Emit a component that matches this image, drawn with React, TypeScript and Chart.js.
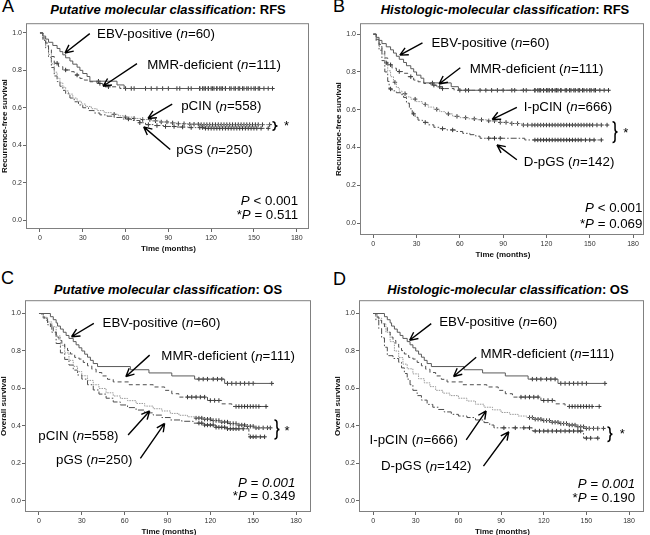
import React, { useEffect, useRef } from "react";
import Chart from "chart.js/auto";

const xTickValues = [0, 30, 60, 90, 120, 150, 180];
const yTickValues = [0, 0.2, 0.4, 0.6, 0.8, 1.0];

// ---- recurrence-free survival ----
const ebvRfsTime = [0, 2, 4, 6, 9, 12, 14, 16, 18, 21, 23, 26, 28, 30, 33, 35, 54, 59];
const ebvRfsSurv = [1, 0.983, 0.967, 0.95, 0.933, 0.917, 0.9, 0.883, 0.867, 0.85, 0.833, 0.817, 0.8, 0.783, 0.767, 0.742, 0.722, 0.703];
const ebvRfsCensor = [41, 64, 78, 86, 96, 104, 112, 114, 116, 118, 120, 122, 124, 126, 128, 130, 133, 136, 139, 142, 145, 148, 151, 154, 163];

const mmrRfsTime = [0, 2, 4, 6, 8, 10, 13, 16, 21, 24, 28, 31, 35, 40, 44, 48, 56];
const mmrRfsSurv = [1, 0.973, 0.946, 0.91, 0.874, 0.838, 0.82, 0.802, 0.793, 0.775, 0.757, 0.748, 0.739, 0.73, 0.721, 0.712, 0.703];
const mmrRfsCensor = [12, 18, 26, 42, 46, 48, 60, 66, 74, 82, 90, 98, 106, 112, 115, 118, 121, 124, 127, 130, 134, 137, 140, 143, 146, 150, 153, 157, 160];

const pcinRfsTime = [0, 2, 4, 6, 8, 10, 12, 14, 16, 18, 20, 23, 26, 29, 32, 36, 40, 45, 50, 55, 60, 66, 72, 78, 84, 90, 96, 104, 112];
const pcinRfsSurv = [1, 0.965, 0.93, 0.885, 0.835, 0.79, 0.758, 0.733, 0.71, 0.69, 0.673, 0.652, 0.635, 0.62, 0.607, 0.595, 0.585, 0.574, 0.565, 0.557, 0.55, 0.543, 0.537, 0.53, 0.524, 0.519, 0.515, 0.512, 0.51];
const pcinRfsCensor = [52, 60, 66, 72, 77, 81, 85, 89, 93, 97, 101, 105, 108, 111, 113, 115, 117, 119, 121, 123, 125, 127, 129, 131, 133, 135, 137, 139, 141, 143, 145, 147, 149, 151, 153, 156, 161];

const pgsRfsTime = [0, 2, 4, 6, 8, 10, 12, 14, 16, 18, 21, 24, 27, 30, 34, 38, 42, 47, 52, 58, 64, 70, 74, 80, 88, 96, 104, 115];
const pgsRfsSurv = [1, 0.96, 0.92, 0.87, 0.815, 0.77, 0.74, 0.715, 0.693, 0.675, 0.652, 0.632, 0.615, 0.6, 0.585, 0.572, 0.562, 0.555, 0.548, 0.54, 0.532, 0.52, 0.51, 0.505, 0.5, 0.497, 0.494, 0.49];
const pgsRfsCensor = [62, 70, 76, 82, 88, 94, 100, 106, 112, 114, 116, 118, 120, 122, 124, 126, 128, 130, 132, 134, 136, 138, 140, 142, 144, 146, 148, 150, 152, 155, 160];

const ipcinRfsTime = [0, 2, 4, 6, 8, 10, 12, 14, 16, 18, 20, 23, 26, 30, 34, 38, 42, 46, 50, 55, 60, 66, 72, 80, 88, 95, 103];
const ipcinRfsSurv = [1, 0.97, 0.935, 0.895, 0.848, 0.806, 0.775, 0.745, 0.718, 0.698, 0.685, 0.668, 0.656, 0.643, 0.628, 0.614, 0.602, 0.59, 0.578, 0.565, 0.558, 0.552, 0.547, 0.541, 0.533, 0.527, 0.519];
const ipcinRfsCensor = [9, 15, 22, 29, 36, 44, 52, 58, 64, 70, 75, 80, 84, 88, 92, 96, 100, 104, 107, 110, 112, 114, 116, 118, 120, 122, 124, 126, 128, 130, 132, 134, 136, 138, 140, 142, 144, 146, 148, 150, 152, 155, 158, 162];

const dpgsRfsTime = [0, 2, 4, 6, 8, 10, 11, 13, 16, 19, 21, 23, 25, 27, 29, 31, 34, 38, 42, 46, 51, 57, 62, 67, 71, 74, 105];
const dpgsRfsSurv = [1, 0.965, 0.915, 0.86, 0.8, 0.75, 0.71, 0.7, 0.69, 0.68, 0.665, 0.635, 0.605, 0.578, 0.56, 0.545, 0.533, 0.52, 0.507, 0.5, 0.493, 0.485, 0.475, 0.468, 0.46, 0.449, 0.44];
const dpgsRfsCensor = [12, 28, 36, 48, 55, 80, 84, 88, 112, 114, 116, 118, 120, 122, 124, 126, 128, 130, 132, 134, 136, 138, 140, 142, 144, 147, 150, 153, 158];

// ---- overall survival ----
const ebvOsTime = [0, 8, 10, 12, 13, 15, 17, 19, 21, 24, 26, 28, 30, 32, 34, 36, 38, 41, 64, 77, 93, 109, 130];
const ebvOsSurv = [1, 0.983, 0.967, 0.95, 0.933, 0.917, 0.9, 0.883, 0.867, 0.85, 0.833, 0.817, 0.8, 0.783, 0.767, 0.75, 0.733, 0.717, 0.7, 0.683, 0.667, 0.65, 0.627];
const ebvOsCensor = [112, 115, 118, 122, 125, 128, 132, 135, 138, 141, 144, 147, 150, 163];

const mmrOsTime = [0, 2, 4, 6, 8, 10, 12, 14, 16, 18, 20, 22, 25, 28, 31, 34, 37, 40, 44, 48, 52, 63, 80, 88, 93, 98, 118, 128, 135];
const mmrOsSurv = [1, 0.982, 0.964, 0.946, 0.928, 0.901, 0.874, 0.856, 0.838, 0.82, 0.802, 0.784, 0.766, 0.757, 0.739, 0.721, 0.703, 0.685, 0.667, 0.649, 0.635, 0.62, 0.608, 0.59, 0.572, 0.554, 0.536, 0.518, 0.504];
const mmrOsCensor = [104, 107, 110, 113, 116, 120, 123, 126, 138, 140, 142, 144, 146, 148, 150, 152, 154, 159];

const pcinOsTime = [0, 3, 6, 9, 12, 15, 18, 21, 24, 27, 30, 34, 38, 42, 47, 52, 57, 62, 68, 74, 80, 86, 92, 98, 104, 110, 116, 122, 128, 134, 140, 146, 152];
const pcinOsSurv = [1, 0.98, 0.955, 0.93, 0.88, 0.83, 0.79, 0.75, 0.718, 0.69, 0.668, 0.643, 0.62, 0.6, 0.577, 0.56, 0.547, 0.535, 0.52, 0.506, 0.492, 0.48, 0.467, 0.457, 0.449, 0.442, 0.436, 0.429, 0.421, 0.413, 0.405, 0.398, 0.39];
const pcinOsCensor = [110, 112, 114, 116, 118, 120, 122, 124, 126, 128, 130, 132, 134, 136, 138, 140, 142, 144, 146, 148, 150, 152, 154, 157, 160, 162];

const pgsOsTime = [0, 3, 6, 9, 12, 15, 18, 21, 24, 27, 30, 34, 38, 42, 47, 52, 57, 62, 68, 74, 80, 86, 92, 100, 108, 116, 124, 132, 147];
const pgsOsSurv = [1, 0.975, 0.94, 0.9, 0.84, 0.79, 0.755, 0.725, 0.698, 0.672, 0.65, 0.62, 0.592, 0.57, 0.548, 0.528, 0.512, 0.498, 0.485, 0.47, 0.458, 0.445, 0.432, 0.425, 0.415, 0.405, 0.393, 0.385, 0.342];
const pgsOsCensor = [112, 114, 116, 118, 120, 122, 124, 126, 128, 130, 132, 134, 136, 138, 140, 143, 148, 150, 152, 155, 158];

const ipcinOsTime = [0, 3, 6, 9, 12, 15, 18, 21, 24, 28, 32, 36, 40, 44, 49, 54, 60, 66, 72, 78, 84, 90, 96, 102, 108, 114, 120, 126, 132, 138, 144, 150];
const ipcinOsSurv = [1, 0.975, 0.945, 0.9, 0.85, 0.8, 0.765, 0.73, 0.705, 0.678, 0.652, 0.63, 0.61, 0.59, 0.575, 0.562, 0.548, 0.533, 0.516, 0.5, 0.486, 0.472, 0.462, 0.453, 0.445, 0.436, 0.429, 0.42, 0.413, 0.405, 0.396, 0.387];
const ipcinOsCensor = [110, 112, 114, 116, 118, 120, 122, 124, 126, 128, 130, 132, 134, 136, 138, 140, 142, 144, 146, 148, 150, 152, 155, 158, 162];

const dpgsOsTime = [0, 2, 4, 6, 8, 10, 14, 18, 20, 22, 24, 26, 28, 31, 34, 38, 42, 46, 50, 55, 60, 66, 72, 78, 82, 85, 112, 148];
const dpgsOsSurv = [1, 0.965, 0.92, 0.87, 0.82, 0.775, 0.76, 0.74, 0.71, 0.68, 0.65, 0.62, 0.59, 0.562, 0.538, 0.515, 0.5, 0.488, 0.475, 0.462, 0.453, 0.445, 0.432, 0.418, 0.405, 0.39, 0.373, 0.335];
const dpgsOsCensor = [92, 100, 106, 110, 114, 117, 120, 123, 126, 129, 132, 135, 138, 141, 144, 146, 150, 153, 158];

const FONT = '"Liberation Sans", Arial, sans-serif';

type Curve = { time: number[]; surv: number[]; censor: number[]; style: string };

const lineStyles: Record<string, { color: string; dash: number[] }> = {
  solid: { color: "#5a5a5a", dash: [] },
  dashed: { color: "#4d4d4d", dash: [4, 3] },
  dotted: { color: "#9a9a9a", dash: [1.5, 1] },
  dashdot: { color: "#4d4d4d", dash: [6, 2, 1.5, 2] },
};

const curve = (time: number[], surv: number[], censor: number[], style: string): Curve => ({ time, surv, censor, style });

const ebvRfs = curve(ebvRfsTime, ebvRfsSurv, ebvRfsCensor, "solid");
const mmrRfs = curve(mmrRfsTime, mmrRfsSurv, mmrRfsCensor, "dashed");
const pcinRfs = curve(pcinRfsTime, pcinRfsSurv, pcinRfsCensor, "dotted");
const pgsRfs = curve(pgsRfsTime, pgsRfsSurv, pgsRfsCensor, "dashdot");
const ipcinRfs = curve(ipcinRfsTime, ipcinRfsSurv, ipcinRfsCensor, "dotted");
const dpgsRfs = curve(dpgsRfsTime, dpgsRfsSurv, dpgsRfsCensor, "dashdot");
const ebvOs = curve(ebvOsTime, ebvOsSurv, ebvOsCensor, "solid");
const mmrOs = curve(mmrOsTime, mmrOsSurv, mmrOsCensor, "dashed");
const pcinOs = curve(pcinOsTime, pcinOsSurv, pcinOsCensor, "dotted");
const pgsOs = curve(pgsOsTime, pgsOsSurv, pgsOsCensor, "dashdot");
const ipcinOs = curve(ipcinOsTime, ipcinOsSurv, ipcinOsCensor, "dotted");
const dpgsOs = curve(dpgsOsTime, dpgsOsSurv, dpgsOsCensor, "dashdot");

function survAt(c: Curve, t: number) {
  let s = c.surv[0];
  for (let i = 0; i < c.time.length; i++) if (c.time[i] <= t) s = c.surv[i];
  return s;
}

type Pt = [number, number];
type Panel = {
  letter: string;
  title: [string, string];
  titleX: number;
  titleY: number;
  letterPos: [number, number];
  yTitle: string;
  panelLeft: number;
  box: { l: number; t: number; r: number; b: number };
  xRange: [number, number];
  yRange: [number, number];
  curves: Curve[];
  labels: { text: string; x: number; y: number }[];
  arrows: [Pt, Pt][];
  brace: { x: number; top: number; bottom: number };
  star: Pt;
  pRight: number;
  pvals: { text: string; y: number }[];
};

const panels: Panel[] = [
  {
    letter: "A",
    title: ["Putative molecular classification", ": RFS"],
    titleX: 168, titleY: 1.5, letterPos: [2, -4],
    yTitle: "Recurrence-free survival",
    panelLeft: 0,
    box: { l: 26, t: 23, r: 310, b: 229 },
    xRange: [-9.8, 188.6], yRange: [-0.048, 1.052],
    curves: [ebvRfs, mmrRfs, pcinRfs, pgsRfs],
    labels: [
      { text: "EBV-positive (~n~=60)", x: 40, y: 0.991 },
      { text: "MMR-deficient (~n~=111)", x: 75.2, y: 0.827 },
      { text: "pCIN (~n~=558)", x: 99, y: 0.605 },
      { text: "pGS (~n~=250)", x: 95.5, y: 0.37 },
    ],
    arrows: [
      [[34.9, 0.996], [17.5, 0.893]],
      [[68, 0.836], [44.2, 0.715]],
      [[92.7, 0.619], [75.7, 0.543]],
      [[91.3, 0.377], [72.7, 0.498]],
    ],
    brace: { x: 163, top: 0.525, bottom: 0.48 },
    star: [172.8, 0.498],
    pRight: 181,
    pvals: [{ text: "~P~ < 0.001", y: 0.101 }, { text: "*~P~ = 0.511", y: 0.027 }],
  },
  {
    letter: "B",
    title: ["Histologic-molecular classification", ": RFS"],
    titleX: 505, titleY: 1.5, letterPos: [333, -4],
    yTitle: "Recurrence-free survival",
    panelLeft: 330,
    box: { l: 360, t: 23, r: 645, b: 235 },
    xRange: [-9.2, 187.6], yRange: [-0.063, 1.058],
    curves: [ebvRfs, mmrRfs, ipcinRfs, dpgsRfs],
    labels: [
      { text: "EBV-positive (~n~=60)", x: 40.3, y: 0.951 },
      { text: "MMR-deficient (~n~=111)", x: 66.8, y: 0.815 },
      { text: "I-pCIN (~n~=666)", x: 104.3, y: 0.611 },
      { text: "D-pGS (~n~=142)", x: 104.3, y: 0.32 },
    ],
    arrows: [
      [[34.1, 0.954], [18.4, 0.889]],
      [[60.3, 0.822], [45.6, 0.736]],
      [[99.5, 0.613], [82.4, 0.549]],
      [[99.5, 0.335], [85.7, 0.414]],
    ],
    brace: { x: 165.8, top: 0.537, bottom: 0.426 },
    star: [175, 0.475],
    pRight: 186.5,
    pvals: [{ text: "~P~ < 0.001", y: 0.079 }, { text: "*~P~ = 0.069", y: -0.004 }],
  },
  {
    letter: "C",
    title: ["Putative molecular classification", ": OS"],
    titleX: 168, titleY: 281.5, letterPos: [1, 268],
    yTitle: "Overall survival",
    panelLeft: 0,
    box: { l: 25, t: 300, r: 312, b: 512 },
    xRange: [-9.8, 190.5], yRange: [-0.059, 1.071],
    curves: [ebvOs, mmrOs, pcinOs, pgsOs],
    labels: [
      { text: "EBV-positive (~n~=60)", x: 44.5, y: 0.947 },
      { text: "MMR-deficient (~n~=111)", x: 85.7, y: 0.769 },
      { text: "pCIN (~n~=558)", x: -0.5, y: 0.343 },
      { text: "pGS (~n~=250)", x: 11.9, y: 0.215 },
    ],
    arrows: [
      [[38.4, 0.947], [22.8, 0.876]],
      [[77.5, 0.778], [60.8, 0.663]],
      [[62.4, 0.352], [77.5, 0.48]],
      [[71, 0.227], [88, 0.414]],
    ],
    brace: { x: 164.9, top: 0.432, bottom: 0.33 },
    star: [173.7, 0.37],
    pRight: 179.5,
    pvals: [{ text: "~P = 0.001~", y: 0.094 }, { text: "*~P~ = 0.349", y: 0.023 }],
  },
  {
    letter: "D",
    title: ["Histologic-molecular classification", ": OS"],
    titleX: 508, titleY: 281.5, letterPos: [333, 269],
    yTitle: "Overall survival",
    panelLeft: 330,
    box: { l: 359, t: 300, r: 645, b: 512 },
    xRange: [-9.9, 190.5], yRange: [-0.059, 1.071],
    curves: [ebvOs, mmrOs, ipcinOs, dpgsOs],
    labels: [
      { text: "EBV-positive (~n~=60)", x: 46.5, y: 0.955 },
      { text: "MMR-deficient (~n~=111)", x: 75.5, y: 0.78 },
      { text: "I-pCIN (~n~=666)", x: -2.5, y: 0.326 },
      { text: "D-pGS (~n~=142)", x: 5.5, y: 0.182 },
    ],
    arrows: [
      [[40.9, 0.946], [25.7, 0.857]],
      [[72.5, 0.767], [56.6, 0.664]],
      [[65.5, 0.326], [79.5, 0.481]],
      [[77.6, 0.186], [95.4, 0.369]],
    ],
    brace: { x: 164.8, top: 0.395, bottom: 0.317 },
    star: [175.3, 0.356],
    pRight: 184.2,
    pvals: [{ text: "~P = 0.001~", y: 0.088 }, { text: "*~P~ = 0.190", y: 0.016 }],
  },
];

function drawRich(ctx: CanvasRenderingContext2D, text: string, x: number, y: number, align: "left" | "right", size: number) {
  const parts = text.split("~");
  const fontFor = (i: number) => `${i % 2 ? "italic " : ""}${size}px ${FONT}`;
  let total = 0;
  parts.forEach((p, i) => {
    ctx.font = fontFor(i);
    total += ctx.measureText(p).width;
  });
  let cx = align === "right" ? x - total : x;
  ctx.textAlign = "left";
  ctx.textBaseline = "middle";
  parts.forEach((p, i) => {
    ctx.font = fontFor(i);
    ctx.fillText(p, cx, y);
    cx += ctx.measureText(p).width;
  });
}

function makeOverlay(panel: Panel) {
  return {
    id: "kmOverlay",
    afterDraw(chart: any) {
      const { ctx, chartArea: a, scales } = chart;
      const px = (t: number) => scales.x.getPixelForValue(t);
      const py = (s: number) => scales.y.getPixelForValue(s);
      ctx.save();
      // frame
      ctx.strokeStyle = "#808080";
      ctx.lineWidth = 1;
      ctx.setLineDash([]);
      ctx.strokeRect(a.left + 0.5, a.top + 0.5, a.right - a.left - 1, a.bottom - a.top - 1);
      // axis titles
      ctx.fillStyle = "#111";
      ctx.font = `bold 8px ${FONT}`;
      ctx.textAlign = "center";
      ctx.textBaseline = "middle";
      ctx.fillText("Time (months)", (a.left + a.right) / 2 + 1, a.bottom + 20);
      ctx.save();
      ctx.translate(a.left - 21.5, (a.top + a.bottom) / 2);
      ctx.rotate(-Math.PI / 2);
      ctx.fillText(panel.yTitle, 0, 0);
      ctx.restore();
      // labels
      ctx.fillStyle = "#000";
      panel.labels.forEach((l) => drawRich(ctx, l.text, px(l.x), py(l.y), "left", 13.3));
      panel.pvals.forEach((p) => drawRich(ctx, p.text, px(panel.pRight), py(p.y), "right", 13.3));
      // arrows
      ctx.strokeStyle = "#000";
      ctx.lineWidth = 1.4;
      panel.arrows.forEach(([from, to]) => {
        const x1 = px(from[0]), y1 = py(from[1]), x2 = px(to[0]), y2 = py(to[1]);
        const ang = Math.atan2(y2 - y1, x2 - x1);
        ctx.beginPath();
        ctx.moveTo(x1, y1);
        ctx.lineTo(x2, y2);
        for (const d of [0.45, -0.45]) {
          ctx.moveTo(x2, y2);
          ctx.lineTo(x2 - 9 * Math.cos(ang + d), y2 - 9 * Math.sin(ang + d));
        }
        ctx.stroke();
      });
      // brace
      const bx = px(panel.brace.x), top = py(panel.brace.top), bot = py(panel.brace.bottom);
      const mid = (top + bot) / 2, w = 5, r = Math.min(3, (bot - top) / 4);
      ctx.lineWidth = 1.5;
      ctx.beginPath();
      ctx.moveTo(bx, top);
      ctx.quadraticCurveTo(bx + w / 2, top, bx + w / 2, top + r);
      ctx.lineTo(bx + w / 2, mid - r);
      ctx.quadraticCurveTo(bx + w / 2, mid, bx + w, mid);
      ctx.quadraticCurveTo(bx + w / 2, mid, bx + w / 2, mid + r);
      ctx.lineTo(bx + w / 2, bot - r);
      ctx.quadraticCurveTo(bx + w / 2, bot, bx, bot);
      ctx.stroke();
      ctx.font = `13px ${FONT}`;
      ctx.textAlign = "center";
      ctx.textBaseline = "middle";
      ctx.fillText("*", px(panel.star[0]), py(panel.star[1]));
      ctx.restore();
    },
  };
}

function KMPanel({ panel }: { panel: Panel }) {
  const canvasRef = useRef<HTMLCanvasElement>(null);
  const left = panel.panelLeft;
  const top = panel.box.t - 5;
  const width = panel.box.r + 4 - left;
  const height = panel.box.b + 24 - top;

  useEffect(() => {
    const ctx = canvasRef.current?.getContext("2d");
    if (!ctx) return;

    const datasets: any[] = [];
    panel.curves.forEach((c) => {
      const st = lineStyles[c.style];
      const end = Math.max(...c.censor, c.time[c.time.length - 1]);
      datasets.push({
        data: [...c.time.map((t, i) => ({ x: t, y: c.surv[i] })), { x: end, y: c.surv[c.surv.length - 1] }],
        stepped: "before",
        borderColor: st.color,
        borderDash: st.dash,
        borderWidth: 1,
        pointRadius: 0,
        fill: false,
      });
    });
    panel.curves.forEach((c) => {
      datasets.push({
        data: c.censor.map((t) => ({ x: t, y: survAt(c, t) })),
        showLine: false,
        pointStyle: "cross",
        pointRadius: 2.2,
        pointBorderWidth: 1,
        pointBorderColor: "#333",
        borderColor: "#333",
      });
    });

    const chart = new Chart(ctx, {
      type: "line",
      data: { datasets },
      options: {
        animation: false,
        responsive: false,
        events: [],
        layout: { padding: { left: 0, top: 5, right: 4, bottom: 0 } },
        plugins: { legend: { display: false }, tooltip: { enabled: false }, title: { display: false } },
        scales: {
          x: {
            type: "linear",
            min: panel.xRange[0],
            max: panel.xRange[1],
            afterBuildTicks: (s: any) => {
              s.ticks = xTickValues.map((v) => ({ value: v }));
            },
            afterFit: (s: any) => {
              s.height = 24;
            },
            grid: { drawOnChartArea: false, drawTicks: true, tickLength: 3, color: "#666" },
            border: { display: false },
            ticks: { font: { family: FONT, size: 7 }, color: "#333", padding: 2, maxRotation: 0, autoSkip: false },
          },
          y: {
            type: "linear",
            min: panel.yRange[0],
            max: panel.yRange[1],
            afterBuildTicks: (s: any) => {
              s.ticks = yTickValues.map((v) => ({ value: v }));
            },
            afterFit: (s: any) => {
              s.width = panel.box.l - panel.panelLeft;
            },
            grid: { drawOnChartArea: false, drawTicks: true, tickLength: 3, color: "#666" },
            border: { display: false },
            ticks: {
              font: { family: FONT, size: 7 },
              color: "#333",
              padding: 1,
              autoSkip: false,
              callback: (v: any) => Number(v).toFixed(1),
            },
          },
        },
      },
      plugins: [makeOverlay(panel)],
    } as any);

    return () => chart.destroy();
  }, [panel]);

  return (
    <canvas
      ref={canvasRef}
      width={width}
      height={height}
      style={{ position: "absolute", left, top, width, height }}
    />
  );
}

export default function App() {
  return (
    <div
      style={{
        position: "absolute",
        left: 0,
        top: 0,
        width: 650,
        height: 535,
        overflow: "hidden",
        background: "#fff",
        fontFamily: FONT,
      }}
    >
      {panels.map((p) => (
        <React.Fragment key={p.letter}>
          <div style={{ position: "absolute", left: p.letterPos[0], top: p.letterPos[1], fontSize: 18, lineHeight: "20px" }}>
            {p.letter}
          </div>
          <div
            style={{
              position: "absolute",
              left: p.titleX - 160,
              width: 320,
              top: p.titleY,
              textAlign: "center",
              fontSize: 13,
              lineHeight: "16px",
              fontWeight: "bold",
              whiteSpace: "nowrap",
            }}
          >
            <i>{p.title[0]}</i>
            {p.title[1]}
          </div>
          <KMPanel panel={p} />
        </React.Fragment>
      ))}
    </div>
  );
}
